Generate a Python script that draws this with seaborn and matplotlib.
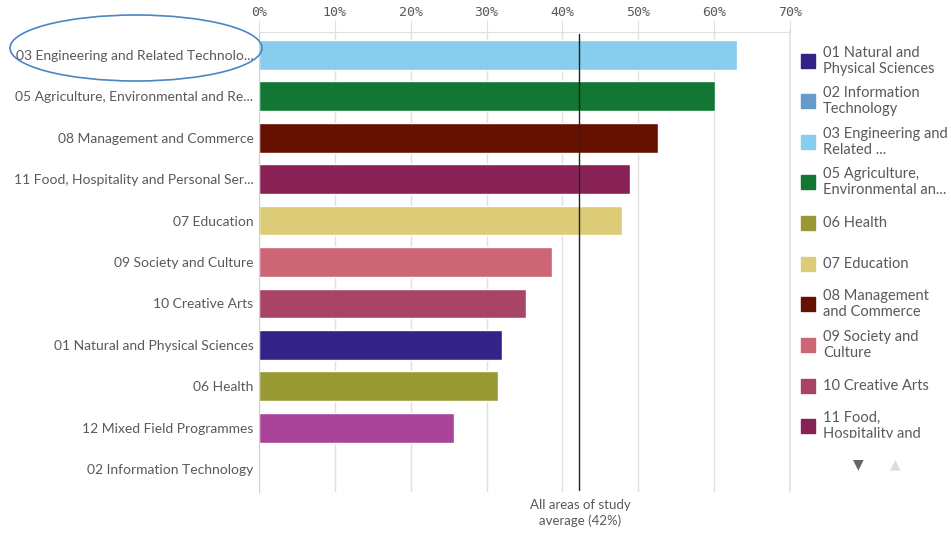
import matplotlib
matplotlib.use("Agg")
import matplotlib.pyplot as plt
import seaborn as sns
import pandas as pd
from matplotlib.patches import Ellipse, Rectangle
from matplotlib.lines import Line2D

# bars, in display order (top to bottom)
categories = [
    "03 Engineering and Related Technologies",
    "05 Agriculture, Environmental and Related Studies",
    "08 Management and Commerce",
    "11 Food, Hospitality and Personal Services",
    "07 Education",
    "09 Society and Culture",
    "10 Creative Arts",
    "01 Natural and Physical Sciences",
    "06 Health",
    "12 Mixed Field Programmes",
    "02 Information Technology",
]
tick_labels = [
    "03 Engineering and Related Technolo...",
    "05 Agriculture, Environmental and Re...",
    "08 Management and Commerce",
    "11 Food, Hospitality and Personal Ser...",
    "07 Education",
    "09 Society and Culture",
    "10 Creative Arts",
    "01 Natural and Physical Sciences",
    "06 Health",
    "12 Mixed Field Programmes",
    "02 Information Technology",
]
values = [63.0, 60.1, 52.6, 48.9, 47.9, 38.6, 35.2, 32.0, 31.5, 25.7, 0.0]
colors = {
    "01 Natural and Physical Sciences": "#332288",
    "02 Information Technology": "#6699cc",
    "03 Engineering and Related Technologies": "#88ccee",
    "05 Agriculture, Environmental and Related Studies": "#117733",
    "06 Health": "#999933",
    "07 Education": "#ddcc77",
    "08 Management and Commerce": "#661100",
    "09 Society and Culture": "#cc6677",
    "10 Creative Arts": "#aa4466",
    "11 Food, Hospitality and Personal Services": "#882255",
    "12 Mixed Field Programmes": "#aa4499",
}
average = 42.2
average_label = "All areas of study\naverage (42%)"
x_ticks = [0, 10, 20, 30, 40, 50, 60, 70]

legend_labels = [
    ("01 Natural and Physical Sciences", "01 Natural and\nPhysical Sciences"),
    ("02 Information Technology", "02 Information\nTechnology"),
    ("03 Engineering and Related Technologies", "03 Engineering and\nRelated ..."),
    ("05 Agriculture, Environmental and Related Studies", "05 Agriculture,\nEnvironmental an..."),
    ("06 Health", "06 Health"),
    ("07 Education", "07 Education"),
    ("08 Management and Commerce", "08 Management\nand Commerce"),
    ("09 Society and Culture", "09 Society and\nCulture"),
    ("10 Creative Arts", "10 Creative Arts"),
    ("11 Food, Hospitality and Personal Services", "11 Food,\nHospitality and"),
]

sns.set_style("white")
plt.rcParams['font.family'] = ['Lato', 'DejaVu Sans']
TXT = "#595959"
GRID = "#e0e0e0"

df = pd.DataFrame({"category": categories, "value": values})

W, H = 951, 534
fig = plt.figure(figsize=(W / 100, H / 100), dpi=100)
ax = fig.add_axes([259 / W, 1 - 492 / H, (790 - 259) / W, (492 - 32) / H])

sns.barplot(data=df, x="value", y="category", hue="category", palette=colors,
            order=categories, hue_order=categories, legend=False, width=0.72,
            orient="h", ax=ax, saturation=1)

ax.set_xlim(0, 70)
ax.set_ylim(10.55, -0.55)
ax.set_xticks(x_ticks)
ax.set_xticklabels([f"{t}%" for t in x_ticks], family="DejaVu Sans Mono",
                   fontsize=9.5, color=TXT)
ax.xaxis.tick_top()
ax.tick_params(axis="x", length=9, color=GRID, pad=0)
ax.set_yticks(range(len(categories)))
ax.set_yticklabels(tick_labels, fontsize=10, color=TXT)
ax.tick_params(axis="y", length=0, pad=4)
ax.set_xlabel("")
ax.set_ylabel("")
ax.grid(axis="x", color=GRID, lw=1)
ax.set_axisbelow(True)
for s in ["right", "bottom"]:
    ax.spines[s].set_visible(False)
ax.spines["top"].set_color(GRID)
ax.spines["left"].set_color("#d0d0d0")

# average reference line
ax.axvline(average, color="#222222", lw=1, ymin=0.005, ymax=0.995)
fig.text(580 / W, 1 - 513 / H, average_label, ha="center", va="center",
         fontsize=9.5, color=TXT, linespacing=1.3)

# legend separator
fig.add_artist(Line2D([790 / W, 790 / W], [1 - 30 / H, 1 - 492 / H],
                      color=GRID, lw=1.2))

# manual legend
item_y = [61, 101, 142, 182, 223, 264, 304, 345, 386, 426]
for (key, lab), yc in zip(legend_labels, item_y):
    fig.add_artist(Rectangle((801 / W, 1 - (yc + 7) / H), 14 / W, 14 / H,
                             transform=fig.transFigure, color=colors[key]))
    fig.text(823 / W, 1 - yc / H, lab, ha="left", va="center",
             fontsize=10.5, color=TXT, linespacing=1.25)

# the legend list is cut off at the bottom, like a scrolling panel
mask = Rectangle((795 / W, 1 - 456 / H), 156 / W, 18 / H,
                 transform=fig.transFigure, color="white", zorder=10)
fig.add_artist(mask)

fig.text(858 / W, 1 - 464 / H, "\u25bc", ha="center", va="center",
         fontsize=10, color="#666666", family="DejaVu Sans", zorder=11)
fig.text(895 / W, 1 - 464 / H, "\u25b2", ha="center", va="center",
         fontsize=10, color="#dddddd", family="DejaVu Sans", zorder=11)

# highlight ellipse around first label
fig.add_artist(Ellipse((136 / W, 1 - 48 / H), 252 / W, 66 / H,
                       transform=fig.transFigure, fill=False,
                       edgecolor="#4a86c5", lw=1.2))

fig.savefig("out.png", dpi=100)
